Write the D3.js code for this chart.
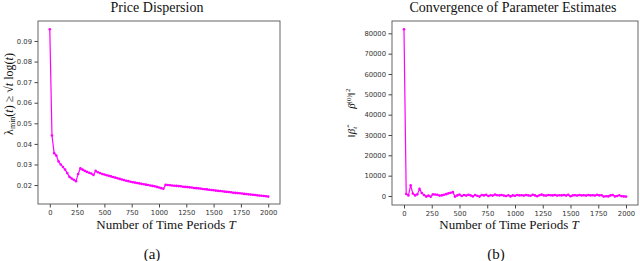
<!DOCTYPE html>
<meta charset="utf-8">
<style>
  body { margin: 0; background: #fff; }
  .tick text { font-family: "DejaVu Sans", sans-serif; font-size: 6.8px; fill: #333; }
  .tick line { stroke: #444; }
  .domain { stroke: none; }
  .serif { font-family: "Liberation Serif", "DejaVu Serif", serif; fill: #111; }
</style>
<svg width="640" height="261"></svg>
<script src="https://d3js.org/d3.v7.min.js"></script>
<script>
  // time periods, sampled every 20
  var periods = d3.range(0, 2001, 20)

  // lambda_min(t) / (sqrt(t) log(t))
  var dispersion = [
    0.0957, 0.0441, 0.0355, 0.0343, 0.0315, 0.0300, 0.0288, 0.0275, 0.0258, 0.0240,
    0.0232, 0.0226, 0.0219, 0.0254, 0.0281, 0.0275, 0.0269, 0.0264, 0.0260, 0.0256,
    0.0249, 0.0269, 0.0262, 0.0258, 0.0254, 0.0251, 0.0248, 0.0245, 0.0242, 0.0239,
    0.0236, 0.0233, 0.0230, 0.0227, 0.0224, 0.0221, 0.0219, 0.0216, 0.0214, 0.0212,
    0.0210, 0.0208, 0.0206, 0.0204, 0.0202, 0.0200, 0.0198, 0.0196, 0.0194, 0.0191,
    0.0188, 0.0185, 0.0182, 0.0201, 0.0200, 0.0199, 0.0198, 0.0197, 0.0196, 0.0195,
    0.0194, 0.0192, 0.0191, 0.0190, 0.0189, 0.0188, 0.0186, 0.0185, 0.0184, 0.0183,
    0.0181, 0.0180, 0.0179, 0.0177, 0.0176, 0.0175, 0.0173, 0.0172, 0.0171, 0.0170,
    0.0168, 0.0167, 0.0166, 0.0165, 0.0163, 0.0162, 0.0161, 0.0160, 0.0159, 0.0157,
    0.0156, 0.0155, 0.0154, 0.0153, 0.0152, 0.0150, 0.0149, 0.0148, 0.0147, 0.0146,
    0.0144
  ]

  // ||beta_t - beta0||^2
  var paramError = [
    82000, 1000, 300, 5200, 1200, 300, 800, 3500, 1500, 500,
    -300, 200, -400, 800, 700, 600, 200, 300, 600, 900,
    1300, 1600, 1900, -300, 300, 700, 0, 500, 200, 600,
    300, -200, 500, 100, -300, 500, 300, 600, 0, 400,
    200, 700, 400, 300, 500, 200, 0, 400, -200, 300,
    100, 500, 300, 400, 200, 500, 300, 100, 600, 300,
    -100, 400, 700, 300, 200, 500, 400, 300, 500, 200,
    400, 300, 500, 200, 600, -100, 300, 400, 200, 500,
    300, 400, 200, 500, 300, 400, 200, 600, 300, 400,
    -300, -100, -200, 300, 500, -200, 0, 400, -100, -200,
    -300
  ]

  var xTicks = [0, 250, 500, 750, 1000, 1250, 1500, 1750, 2000]
  var leftYTicks = [0.02, 0.03, 0.04, 0.05, 0.06, 0.07, 0.08, 0.09]
  var rightYTicks = [0, 10000, 20000, 30000, 40000, 50000, 60000, 70000, 80000]

  var svg = d3.select('svg')

  function panel(opt) {
    var g = svg.append('g')
    var x = d3.scaleLinear().domain([-108, 2108]).range([opt.left, opt.right])
    var y = d3.scaleLinear().domain(opt.yDomain).range([opt.bottom, opt.top])

    g.append('g')
      .attr('transform', 'translate(0,' + opt.bottom + ')')
      .call(d3.axisBottom(x).tickValues(xTicks).tickSize(3.5).tickPadding(2.5).tickFormat(d3.format('d')))
    g.append('g')
      .attr('transform', 'translate(' + opt.left + ',0)')
      .call(d3.axisLeft(y).tickValues(opt.yTicks).tickSize(3.5).tickPadding(2.5).tickFormat(opt.fmt))

    g.append('rect')
      .attr('x', opt.left).attr('y', opt.top)
      .attr('width', opt.right - opt.left).attr('height', opt.bottom - opt.top)
      .attr('fill', 'none').attr('stroke', '#555').attr('stroke-width', 0.9)

    var pts = periods.map((t, i) => [t, opt.values[i]])
    g.append('path')
      .datum(pts)
      .attr('fill', 'none')
      .attr('stroke', '#ff00ff')
      .attr('stroke-width', 1.2)
      .attr('d', d3.line().x(d => x(d[0])).y(d => y(d[1])))
    g.append('g').selectAll('circle')
      .data(pts)
      .enter().append('circle')
      .attr('cx', d => x(d[0]))
      .attr('cy', d => y(d[1]))
      .attr('r', 1.3)
      .attr('fill', '#ff00ff')

    var cx = (opt.left + opt.right) / 2
    g.append('text').attr('class', 'serif')
      .attr('x', cx - 2).attr('y', 12).attr('text-anchor', 'middle')
      .attr('font-size', 14).text(opt.title)
    var xl = g.append('text').attr('class', 'serif')
      .attr('x', opt.xLabelX).attr('y', 229).attr('text-anchor', 'middle')
      .attr('font-size', 13)
    xl.append('tspan').text('Number of Time Periods ')
    xl.append('tspan').attr('font-style', 'italic').text('T')
    g.append('text').attr('class', 'serif')
      .attr('x', opt.capX).attr('y', 259).attr('text-anchor', 'middle')
      .attr('font-size', 15).text(opt.caption)
    return g
  }

  var a = panel({
    left: 38, right: 280, top: 21, bottom: 204,
    yDomain: [0.0108, 0.0997], yTicks: leftYTicks, fmt: d3.format('.2f'),
    values: dispersion, title: 'Price Dispersion', xLabelX: 166, capX: 152, caption: '(a)'
  })
  var b = panel({
    left: 392, right: 638, top: 21, bottom: 205,
    yDomain: [-4430, 86060], yTicks: rightYTicks, fmt: d3.format('d'),
    values: paramError, title: 'Convergence of Parameter Estimates', xLabelX: 509, capX: 496, caption: '(b)'
  })

  // rotated y labels
  var la = svg.append('text').attr('class', 'serif')
    .attr('transform', 'translate(13,94) rotate(-90)')
    .attr('text-anchor', 'middle').attr('font-size', 12)
  la.append('tspan').text('λ')
  la.append('tspan').attr('font-size', 8).attr('dy', 2).text('min')
  la.append('tspan').attr('dy', -2).text('(')
  la.append('tspan').attr('font-style', 'italic').text('t')
  la.append('tspan').text(') ≥ √')
  la.append('tspan').attr('font-style', 'italic').text('t')
  la.append('tspan').text(' log(')
  la.append('tspan').attr('font-style', 'italic').text('t')
  la.append('tspan').text(')')

  var lb = svg.append('text').attr('class', 'serif')
    .attr('transform', 'translate(355,113) rotate(-90)')
    .attr('text-anchor', 'middle').attr('font-size', 11)
  lb.append('tspan').text('‖')
  lb.append('tspan').attr('font-style', 'italic').text('β̂')
  lb.append('tspan').attr('font-size', 7).attr('dy', 2).attr('font-style', 'italic').text('t')
  lb.append('tspan').attr('dy', -2).attr('dx', 18).attr('font-style', 'italic').text('β')
  lb.append('tspan').attr('font-size', 7).attr('dy', -4).text('(0)')
  lb.append('tspan').attr('dy', 4).text('‖')
  lb.append('tspan').attr('font-size', 7).attr('dy', -5).text('2')
</script>
